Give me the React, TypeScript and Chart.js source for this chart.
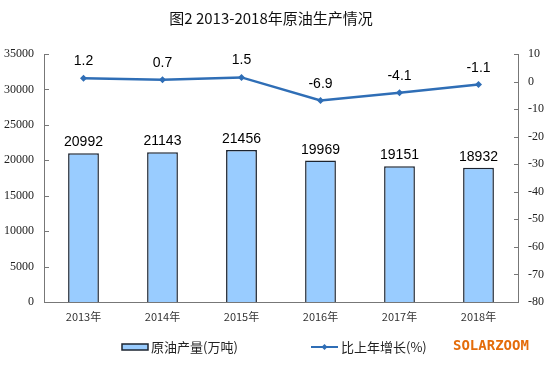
import React, { useEffect, useRef } from "react";
import { Chart, registerables } from "chart.js";

Chart.register(...registerables);

const categories = ["2013年", "2014年", "2015年", "2016年", "2017年", "2018年"];
const output = [20992, 21143, 21456, 19969, 19151, 18932];
const growth = [1.2, 0.7, 1.5, -6.9, -4.1, -1.1];
const leftTicks = [0, 35000, 5000];
const rightTicks = [-80, 10, 10];
const titleText = "图2 2013-2018年原油生产情况";
const barLegend = "原油产量(万吨)";
const lineLegend = "比上年增长(%)";
const watermark = "SOLARZOOM";

const BAR_FILL = "#99CCFF";
const BAR_BORDER = "#1c2430";
const LINE = "#2F6EB6";
const CJK = "'Noto Sans CJK SC', 'Noto Sans', sans-serif";
const SERIF = "'Liberation Serif', 'Times New Roman', serif";

const overlay = {
  id: "overlay",
  afterDraw(chart: any) {
    const ctx = chart.ctx;
    const area = chart.chartArea;
    ctx.save();
    ctx.strokeStyle = "#777";
    ctx.lineWidth = 1;
    const yl = chart.scales.y;
    yl.ticks.forEach((t: any) => {
      const y = Math.round(yl.getPixelForValue(t.value)) + 0.5;
      ctx.beginPath();
      ctx.moveTo(area.left, y);
      ctx.lineTo(area.left + 5, y);
      ctx.stroke();
    });
    const yr = chart.scales.y1;
    yr.ticks.forEach((t: any) => {
      const y = Math.round(yr.getPixelForValue(t.value)) + 0.5;
      ctx.beginPath();
      ctx.moveTo(area.right - 4, y);
      ctx.lineTo(area.right, y);
      ctx.stroke();
    });
    ctx.fillStyle = "#111";
    ctx.font = "15px " + CJK;
    ctx.textAlign = "center";
    ctx.textBaseline = "middle";
    ctx.fillText(titleText, 271, 18);
    ctx.font = "14px 'Liberation Sans', Arial, sans-serif";
    ctx.fillStyle = "#000";
    ctx.textBaseline = "alphabetic";
    chart.getDatasetMeta(0).data.forEach((el: any, i: number) => {
      ctx.fillText(String(output[i]), el.x, el.y - 7);
    });
    chart.getDatasetMeta(1).data.forEach((el: any, i: number) => {
      ctx.fillText(growth[i].toFixed(1), el.x, el.y - 13);
    });
    const ly = 347;
    ctx.fillStyle = BAR_FILL;
    ctx.fillRect(122, ly - 3, 26, 6);
    ctx.strokeStyle = BAR_BORDER;
    ctx.lineWidth = 1.5;
    ctx.strokeRect(122, ly - 3, 26, 6);
    ctx.fillStyle = "#222";
    ctx.font = "13px " + CJK;
    ctx.textAlign = "left";
    ctx.textBaseline = "middle";
    ctx.fillText(barLegend, 151, ly);
    ctx.strokeStyle = LINE;
    ctx.lineWidth = 2;
    ctx.beginPath();
    ctx.moveTo(311, ly);
    ctx.lineTo(338, ly);
    ctx.stroke();
    ctx.fillStyle = LINE;
    ctx.beginPath();
    ctx.moveTo(324.5, ly - 3);
    ctx.lineTo(327.5, ly);
    ctx.lineTo(324.5, ly + 3);
    ctx.lineTo(321.5, ly);
    ctx.closePath();
    ctx.fill();
    ctx.fillStyle = "#222";
    ctx.fillText(lineLegend, 341, ly);
    ctx.fillStyle = "#E46C0A";
    ctx.font = "bold 14px 'DejaVu Sans Mono', monospace";
    ctx.fillText(watermark, 453, ly - 1);
    ctx.restore();
  },
};

export default function App() {
  const ref = useRef<HTMLCanvasElement>(null);
  useEffect(() => {
    if (!ref.current) return;
    const chart = new Chart(ref.current, {
      type: "bar",
      data: {
        labels: categories,
        datasets: [
          {
            type: "bar",
            label: barLegend,
            data: output,
            yAxisID: "y",
            backgroundColor: BAR_FILL,
            borderColor: BAR_BORDER,
            borderWidth: 1.5,
            barPercentage: 0.39,
            categoryPercentage: 1,
            order: 2,
          },
          {
            type: "line",
            label: lineLegend,
            data: growth,
            yAxisID: "y1",
            borderColor: LINE,
            backgroundColor: LINE,
            borderWidth: 2.5,
            pointStyle: "rectRot",
            pointRadius: 3.5,
            pointBorderWidth: 0,
            tension: 0,
            order: 1,
          },
        ],
      },
      options: {
        responsive: false,
        animation: false,
        layout: { padding: { top: 54, bottom: 49, left: 0, right: 0 } },
        plugins: {
          legend: { display: false },
          title: { display: false },
          tooltip: { enabled: false },
        },
        scales: {
          x: {
            grid: { display: false, drawTicks: false },
            border: { display: true, color: "#777", width: 1 },
            ticks: {
              color: "#333",
              font: { size: 11, family: CJK },
              padding: 8,
              maxRotation: 0,
            },
            afterFit(s: any) {
              s.height = 30;
            },
          },
          y: {
            position: "left",
            min: leftTicks[0],
            max: leftTicks[1],
            grid: { display: false, drawTicks: false },
            border: { display: true, color: "#777", width: 1 },
            ticks: {
              stepSize: leftTicks[2],
              color: "#222",
              font: { size: 12, family: SERIF },
              padding: 10,
              callback: (v: any) => String(v),
            },
            afterFit(s: any) {
              s.width = 44;
            },
          },
          y1: {
            position: "right",
            min: rightTicks[0],
            max: rightTicks[1],
            grid: { display: false, drawTicks: false },
            border: { display: true, color: "#777", width: 1 },
            ticks: {
              stepSize: rightTicks[2],
              color: "#222",
              font: { size: 12, family: SERIF },
              padding: 10,
              callback: (v: any) => String(v),
            },
            afterFit(s: any) {
              s.width = 36;
            },
          },
        },
      },
      plugins: [overlay],
    });
    return () => chart.destroy();
  }, []);
  return (
    <div style={{ position: "absolute", left: 0, top: 0, width: 554, height: 381, background: "#fff" }}>
      <canvas ref={ref} width={554} height={381} style={{ display: "block" }} />
    </div>
  );
}
